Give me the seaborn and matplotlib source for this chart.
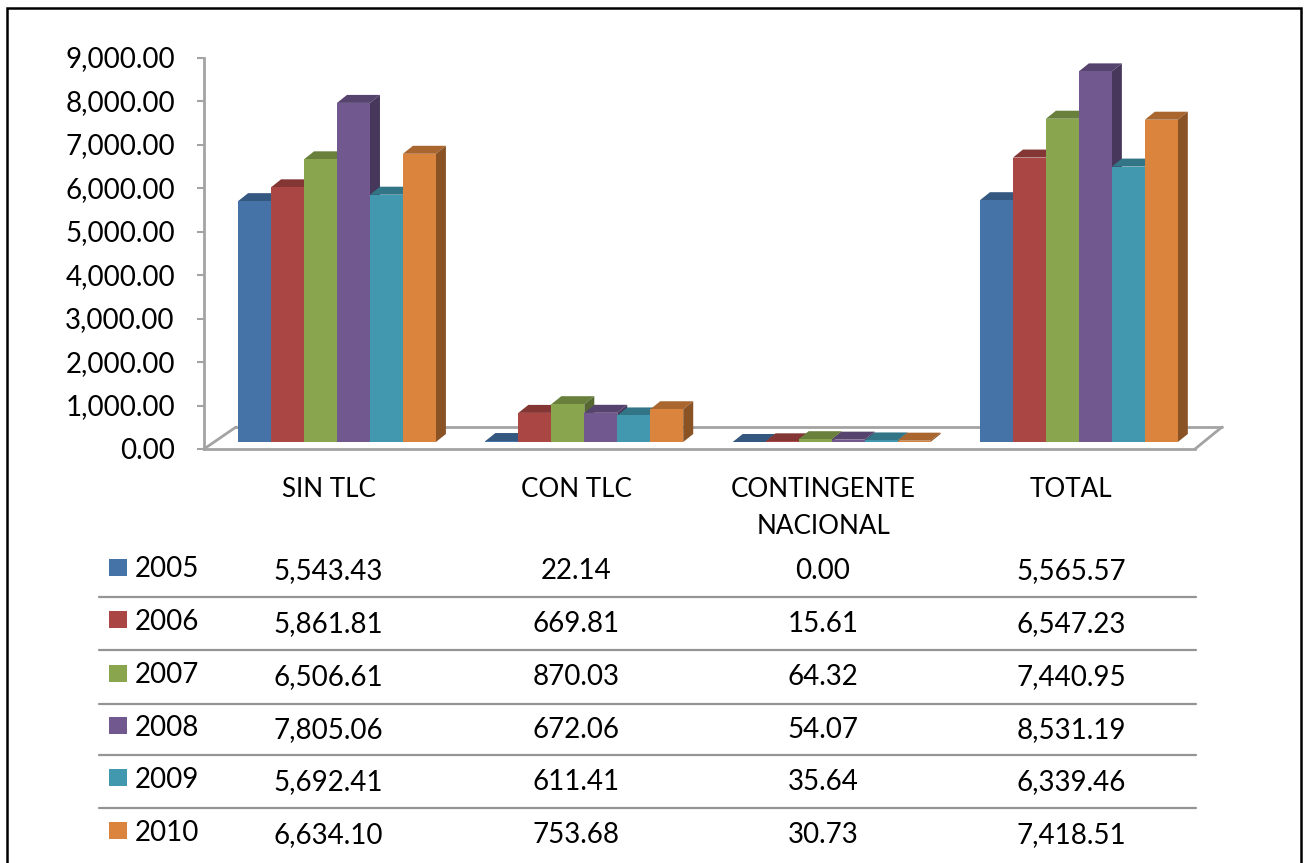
import matplotlib
matplotlib.use('Agg')
import pandas as pd
import matplotlib.pyplot as plt
import seaborn as sns
from matplotlib.lines import Line2D
from matplotlib.patches import Polygon, Rectangle
from matplotlib.ticker import StrMethodFormatter
from matplotlib.transforms import Affine2D, IdentityTransform, ScaledTranslation

W, H = 1307, 863

years = ['2005', '2006', '2007', '2008', '2009', '2010']
categories = ['SIN TLC', 'CON TLC', 'CONTINGENTE\nNACIONAL', 'TOTAL']
sin_tlc = [5543.43, 5861.81, 6506.61, 7805.06, 5692.41, 6634.10]
con_tlc = [22.14, 669.81, 870.03, 672.06, 611.41, 753.68]
contingente = [0.00, 15.61, 64.32, 54.07, 35.64, 30.73]
total = [5565.57, 6547.23, 7440.95, 8531.19, 6339.46, 7418.51]
colors = ['#4572A7', '#AA4643', '#89A54E', '#71588F', '#4198AF', '#DB843D']

columns = [sin_tlc, con_tlc, contingente, total]
rows = []
for cat, col in zip(categories, columns):
    for yr, val in zip(years, col):
        rows.append({'cat': cat, 'year': yr, 'value': val})
df = pd.DataFrame(rows)

sns.set_theme(style='white')
plt.rcParams['font.family'] = ['Lato', 'DejaVu Sans']
GRAY = '#a3a3a3'
FS = 20

fig = plt.figure(figsize=(W / 100, H / 100), dpi=100)
ax = fig.add_axes([204 / W, 1 - 449 / H, (1195 - 204) / W, (449 - 58) / H])
ax.patch.set_alpha(0)

sns.barplot(data=df, x='cat', y='value', hue='year', hue_order=years, order=categories,
            palette=colors, saturation=1, width=0.8, legend=False, ax=ax)

ax.set_xlim((204 - 337) / 247.3, (1195 - 337) / 247.3)
ax.set_ylim(0, 9000)
ax.set_yticks(range(0, 9001, 1000))
ax.yaxis.set_major_formatter(StrMethodFormatter('{x:,.2f}'))
ax.set_xlabel('')
ax.set_ylabel('')
sns.despine(ax=ax)
for side in ['left', 'bottom']:
    ax.spines[side].set_color(GRAY)
    ax.spines[side].set_linewidth(2)
ax.tick_params(axis='y', length=5, width=1.5, color=GRAY, pad=16, labelsize=FS, left=True, labelcolor='black')
ax.tick_params(axis='x', length=0, pad=20, labelsize=18.7, labelcolor='black')
for lab in ax.get_xticklabels():
    lab.set_linespacing(1.62)
    lab.set_verticalalignment('top')
    lab.set_transform(lab.get_transform() + ScaledTranslation(-8 / 100, 0, fig.dpi_scale_trans))
for lab in ax.get_yticklabels():
    lab.set_transform(lab.get_transform() + ScaledTranslation(0, 1 / 100, fig.dpi_scale_trans))


def px(x, y):
    return x, H - y


# floor of the 3d box, in pixels
for (x0, y0), (x1, y1) in [((204, 449), (236, 427)), ((236, 427), (1222, 427)), ((1195, 449), (1222, 427))]:
    (a, b), (c, d) = px(x0, y0), px(x1, y1)
    ax.add_line(Line2D([a, c], [b, d], color=GRAY, lw=2, transform=IdentityTransform(), zorder=1, clip_on=False))


def shade(color, k):
    r, g, b = matplotlib.colors.to_rgb(color)
    return (r * k, g * k, b * k)


# bars stand 7 px above the front edge, with top and side faces added
shift = ax.transData + Affine2D().translate(0, 7)
DX, DY = 10, 8
bars = []
for hue_i, cont in enumerate(ax.containers):
    for p in cont.patches:
        bars.append((p.get_x(), hue_i, p))
bars.sort(key=lambda b: b[0])
z = 3
for _, hue_i, p in bars:
    p.set_transform(shift)
    p.set_clip_on(False)
    p.set_linewidth(0)
    p.set_zorder(z + 2)
    e = p.get_window_extent()
    top = [(e.x0, e.y1), (e.x0 + DX, e.y1 + DY), (e.x1 + DX, e.y1 + DY), (e.x1, e.y1)]
    side = [(e.x1, e.y0), (e.x1 + DX, e.y0 + DY), (e.x1 + DX, e.y1 + DY), (e.x1, e.y1)]
    ax.add_patch(Polygon(top, closed=True, fc=shade(colors[hue_i], 0.77), lw=0,
                         transform=IdentityTransform(), clip_on=False, zorder=z))
    ax.add_patch(Polygon(side, closed=True, fc=shade(colors[hue_i], 0.63), lw=0,
                         transform=IdentityTransform(), clip_on=False, zorder=z + 1))
    z += 3


def label(x, y, s, ha='center'):
    fig.text(x / W, 1 - y / H, s, ha=ha, va='center', fontsize=FS, color='black')


# data table under the chart
col_x = [328, 576, 823, 1071]
row_y = [571, 624, 677, 730, 782, 835]
key_y = [568, 620, 674, 726, 778, 831]
line_y = [597, 650, 704, 755, 808]
for i, yr in enumerate(years):
    fig.add_artist(Rectangle((109 / W, 1 - (key_y[i] + 8) / H), 18 / W, 17 / H, fc=colors[i], lw=0,
                             transform=fig.transFigure))
    label(135, row_y[i] - 2, yr, ha='left')
    for x, col in zip(col_x, columns):
        label(x, row_y[i], f'{col[i]:,.2f}')
for y in line_y:
    fig.add_artist(Line2D([99 / W, 1196 / W], [1 - y / H, 1 - y / H], color='#949494', lw=1.6))

# outer frame, its bottom edge falls off the picture
fig.add_artist(Rectangle((7 / W, -0.05), (1301 - 7) / W, 1.05 - 8 / H, fc='none', ec='black', lw=1.8,
                         transform=fig.transFigure))

fig.savefig('out.png', dpi=100)
